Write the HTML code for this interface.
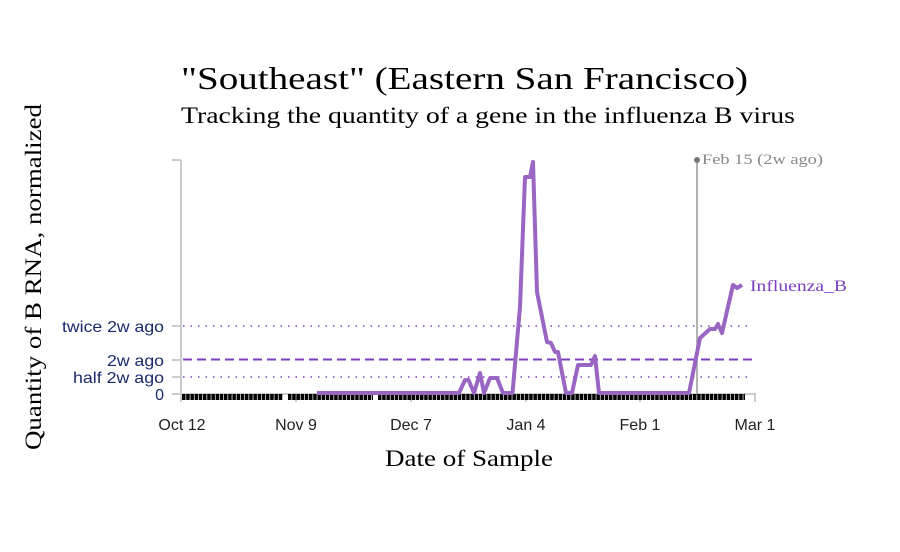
<!DOCTYPE html>
<html><head><meta charset="utf-8"><style>
body{margin:0;background:#fff;width:900px;height:552px;overflow:hidden}
svg{display:block}
.s{font-family:"Liberation Serif",serif}
.a{font-family:"Liberation Sans",sans-serif;font-size:16px}
</style></head><body>
<svg width="900" height="552" viewBox="0 0 900 552">
<text class="s" x="181" y="89" font-size="32" textLength="567" lengthAdjust="spacingAndGlyphs">"Southeast" (Eastern San Francisco)</text>
<text class="s" x="181" y="123" font-size="23" textLength="614" lengthAdjust="spacingAndGlyphs">Tracking the quantity of a gene in the influenza B virus</text>
<text class="s" transform="translate(41,277) rotate(-90)" font-size="23" text-anchor="middle" textLength="346" lengthAdjust="spacingAndGlyphs">Quantity of B RNA, normalized</text>
<text class="s" x="385" y="466" font-size="23" textLength="168" lengthAdjust="spacingAndGlyphs">Date of Sample</text>
<g stroke="#ccc" stroke-width="2" fill="none">
<line x1="181" y1="160" x2="181" y2="395"/>
<line x1="172" y1="160" x2="181" y2="160"/>
<line x1="172" y1="326" x2="181" y2="326"/>
<line x1="172" y1="360" x2="181" y2="360"/>
<line x1="172" y1="377" x2="181" y2="377"/>
<line x1="172" y1="394" x2="181" y2="394"/>
<line x1="181" y1="394" x2="756" y2="394"/>
<line x1="181" y1="394" x2="181" y2="402"/>
<line x1="296" y1="394" x2="296" y2="402"/>
<line x1="411" y1="394" x2="411" y2="402"/>
<line x1="526" y1="394" x2="526" y2="402"/>
<line x1="640" y1="394" x2="640" y2="402"/>
<line x1="755" y1="394" x2="755" y2="402"/>
</g>
<g class="a" fill="#1a2a6c" text-anchor="end">
<text x="164" y="332" textLength="102" lengthAdjust="spacingAndGlyphs">twice 2w ago</text>
<text x="164" y="366" textLength="57" lengthAdjust="spacingAndGlyphs">2w ago</text>
<text x="164" y="383" textLength="91" lengthAdjust="spacingAndGlyphs">half 2w ago</text>
<text x="164" y="400">0</text>
</g>
<g class="a" fill="#222" text-anchor="middle">
<text x="182" y="430">Oct 12</text>
<text x="296" y="430">Nov 9</text>
<text x="411" y="430">Dec 7</text>
<text x="526" y="430">Jan 4</text>
<text x="640" y="430">Feb 1</text>
<text x="755" y="430">Mar 1</text>
</g>
<line x1="183" y1="326" x2="752" y2="326" stroke="#7b3fbf" stroke-width="1.5" stroke-dasharray="1.5,6"/>
<line x1="183" y1="377" x2="752" y2="377" stroke="#7b3fbf" stroke-width="1.5" stroke-dasharray="1.5,6"/>
<line x1="183" y1="359.5" x2="757" y2="359.5" stroke="#7b3fbf" stroke-width="2" stroke-dasharray="9,5"/>
<line x1="697" y1="160" x2="697" y2="395" stroke="#999" stroke-width="1.5"/>
<circle cx="697" cy="160" r="3" fill="#777"/>
<text class="s" x="702" y="164" font-size="15" fill="#888" textLength="121" lengthAdjust="spacingAndGlyphs">Feb 15 (2w ago)</text>
<g stroke="#000" stroke-width="6" stroke-dasharray="3.5,0.7">
<line x1="182" y1="397" x2="283" y2="397"/>
<line x1="288" y1="397" x2="373" y2="397"/>
<line x1="378" y1="397" x2="745" y2="397"/>
</g>
<polyline fill="none" stroke="#9966c4" stroke-width="4" stroke-linejoin="round" points="317,393 459,393 465,380 468.5,380 474,393 480,373 484,393 490,378 497,378 503,393 512.5,393 520,307 525,177 530,177 533,162 537,292 547,342 551,343 555,352 558,352 566,393 572,393 578,365 591,365 595,356 599,393 689,393 700,338 710,329 715,329 718,324 722,333 733,285 737,288 742,285"/>
<text class="s" x="750" y="291" font-size="16" fill="#7b3fbf" textLength="97" lengthAdjust="spacingAndGlyphs">Influenza_B</text>
</svg>
</body></html>
